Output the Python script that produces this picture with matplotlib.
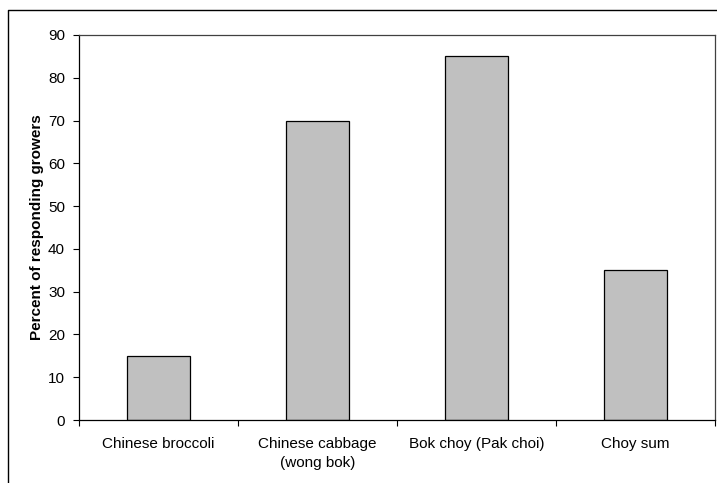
import numpy as np
import matplotlib.pyplot as plt
from matplotlib.lines import Line2D

categories = ["Chinese broccoli", "Chinese cabbage\n(wong bok)", "Bok choy (Pak choi)", "Choy sum"]
percent = [15, 70, 85, 35]
y_ticks = list(range(0, 91, 10))

plt.rcParams['font.family'] = ['Liberation Sans', 'DejaVu Sans']

fig = plt.figure(figsize=(7.17, 4.83), dpi=100)
ax = fig.add_axes([79 / 717, 1 - 420 / 483, (715 - 79) / 717, (420 - 35) / 483])

x = np.arange(len(categories))
ax.bar(x, percent, width=0.4, color='#c0c0c0', edgecolor='black', linewidth=0.9)

ax.set_xlim(-0.5, len(categories) - 0.5)
ax.set_ylim(0, 90)
ax.set_yticks(y_ticks)
ax.tick_params(axis='y', direction='out', length=4, width=0.8, labelsize=11, pad=6)

# category boundaries get the tick marks, centres get the labels
ax.set_xticks(np.arange(len(categories) + 1) - 0.5)
ax.set_xticklabels([])
ax.tick_params(axis='x', which='major', direction='out', length=4, width=0.8)
ax.set_xticks(x, minor=True)
ax.set_xticklabels(categories, minor=True, fontsize=11, linespacing=1.5)
ax.tick_params(axis='x', which='minor', length=0, pad=12)

for s in ax.spines.values():
    s.set_linewidth(0.9)
ax.spines['top'].set_color('#404040')
ax.spines['right'].set_color('#404040')

ax.set_ylabel("Percent of responding growers", fontsize=11, fontweight='bold', labelpad=3)

# outer chart border (partly cropped in the original)
bx = 8 / 717
by = 1 - 10 / 483
fig.add_artist(Line2D([bx, bx, 1], [0, by, by], transform=fig.transFigure, color='black', linewidth=1.0))

fig.savefig('out.png', dpi=100)
